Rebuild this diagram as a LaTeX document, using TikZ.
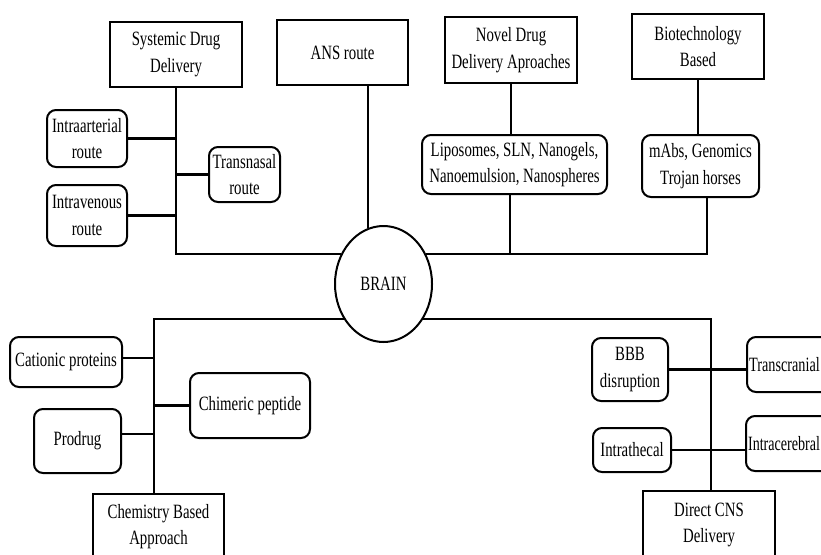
\documentclass[tikz,border=0pt]{standalone}
\usepackage{fontspec}
\usepackage{graphicx}
\setmainfont[FakeStretch=0.73]{Liberation Serif}
\usetikzlibrary{shapes.geometric}
\begin{document}
\begin{tikzpicture}[x=1pt,y=-1pt,
  every node/.style={font=\fontsize{20.3}{26.5}\selectfont, align=center, inner sep=0pt},
  sqbox/.style={draw, line width=2pt},
  rbox/.style={draw, line width=2pt, rounded corners=9pt},
  link/.style={line width=2.1pt}]
\useasboundingbox (0,0) rectangle (821,554);
\fill[white] (0,0) rectangle (821,554);
\clip (0,0) rectangle (821,554);
% top boxes
\node[sqbox, minimum width=132, minimum height=65] (sys) at (176,54.5) {Systemic Drug\\Delivery};
\node[sqbox, minimum width=131, minimum height=65] (ans) at (342.5,52.5) {ANS route};
\node[sqbox, minimum width=132, minimum height=66] (novel) at (511,50) {Novel Drug\\Delivery Aproaches};
\node[sqbox, minimum width=132, minimum height=65] (bio) at (698,46.5) {Biotechnology\\Based};
\node[rbox, minimum width=80, minimum height=57] (ia) at (87,138.5) {Intraarterial\\route};
\node[rbox, minimum width=80, minimum height=61] (iv) at (87,215.5) {Intravenous\\route};
\node[rbox, minimum width=71, minimum height=55] (tn) at (244.5,174.5) {Transnasal\\route};
\node[rbox, minimum width=185, minimum height=59] (lipo) at (514.5,164.5) {Liposomes, SLN, Nanogels,\\Nanoemulsion, Nanospheres};
\node[rbox, minimum width=117, minimum height=62] (mabs) at (700.5,166) {mAbs, Genomics\\Trojan horses};
% centre
\node[draw, ellipse, line width=2pt, minimum width=97, minimum height=116] (brain) at (383.5,284) {BRAIN};
% bottom left
\node[rbox, minimum width=112, minimum height=50] (cat) at (66,362) {Cationic proteins};
\node[rbox, minimum width=120, minimum height=65] (chim) at (250,405.5) {Chimeric peptide};
\node[rbox, minimum width=87, minimum height=64] (pro) at (77.5,441) {Prodrug};
\node[sqbox, minimum width=131, minimum height=65] (chem) at (158.5,526.5) {Chemistry Based\\Approach};
% bottom right
\node[rbox, minimum width=76, minimum height=63] (bbb) at (630,369.5) {BBB\\disruption};
\node[rbox, minimum width=90, minimum height=55, anchor=west] (tc) at (746,364.5) {\scalebox{0.96}[1]{Transcranial}\hspace{15pt}};
\node[rbox, minimum width=78, minimum height=44] (ith) at (632,450) {Intrathecal};
\node[rbox, minimum width=90, minimum height=55, anchor=west] (ic) at (745,443.5) {\scalebox{0.95}[1]{Intracerebral}\hspace{14pt}};
\node[sqbox, minimum width=132, minimum height=68] (dcns) at (709,525) {Direct CNS\\Delivery};
% junctions
\coordinate (sj) at (176,254);
\coordinate (lpj) at (510,254);
\coordinate (rj) at (707,254);
\coordinate (lj) at (154,319);
\coordinate (rj2) at (711,319);
% upper connectors
\draw[link] (sys.south) -- (sj) -- (sj -| brain.144);
\draw[link] (ia.east) -- (ia.east -| sj);
\draw[link] (tn.west) -- (tn.west -| sj);
\draw[link] (iv.east) -- (iv.east -| sj);
\draw[link] (ans.south -| brain.105.7) -- (brain.105.7);
\draw[link] (rj -| brain.36) -- (rj) -- (mabs.south -| rj);
\draw[link] (lipo.south -| lpj) -- (lpj);
\draw[link] (novel.south) -- (novel.south |- lipo.north);
\draw[link] (bio.south) -- (bio.south |- mabs.north);
% lower connectors
\draw[link] (lj -| brain.222) -- (lj) -- (lj |- chem.north);
\draw[link] (cat.4) -- (cat.4 -| lj);
\draw[link] (chim.west) -- (chim.west -| lj);
\draw[link] (pro.9) -- (pro.9 -| lj);
\draw[link] (rj2 -| brain.318) -- (rj2) -- (rj2 |- dcns.north);
\draw[link] (bbb.east) -- (bbb.east -| tc.west);
\draw[link] (ith.east) -- (ith.east -| ic.west);
\end{tikzpicture}
\end{document}
